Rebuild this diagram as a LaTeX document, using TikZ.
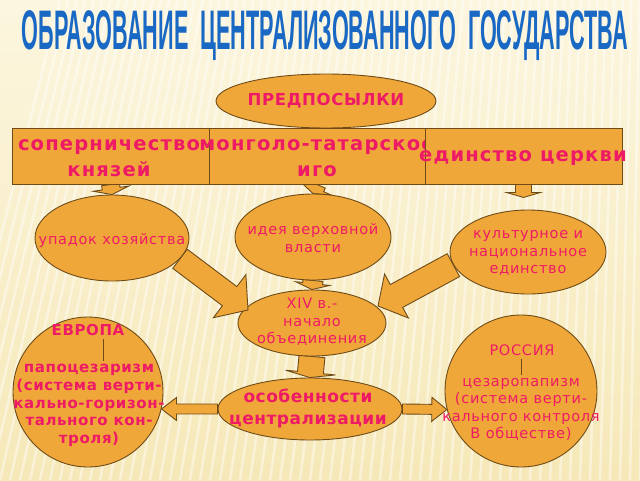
\documentclass[tikz,border=0pt]{standalone}
\usepackage{fontspec}
\usepackage{graphicx}
\setmainfont{DejaVu Sans}
\newfontfamily\titlefont{Liberation Sans}
\usetikzlibrary{shapes.geometric,calc,backgrounds}

\definecolor{bgtop}{HTML}{FCF6DF}
\definecolor{bgbottom}{HTML}{F6E8B8}
\definecolor{boxfill}{HTML}{F0A73A}
\definecolor{boxline}{HTML}{6E4C18}
\definecolor{pinktext}{HTML}{EE1A66}
\definecolor{titleblue}{HTML}{1868C4}

% block arrow from #1 to #2: shaft half width #3, head half width #4, head length #5
\newcommand{\fatarrow}[5]{%
  \coordinate (fa-base) at ($(#2)!#5!(#1)$);
  \draw[blockarrow]
    ($(#1)!#3!90:(#2)$) -- ($(fa-base)!#3!90:(#2)$) -- ($(fa-base)!#4!90:(#2)$)
    -- (#2)
    -- ($(fa-base)!#4!-90:(#2)$) -- ($(fa-base)!#3!-90:(#2)$) -- ($(#1)!#3!-90:(#2)$) -- cycle;
}

\tikzset{
  plate/.style={rectangle, draw=boxline, fill=boxfill, line width=0.9pt, inner sep=0pt},
  bubble/.style={ellipse, draw=boxline, fill=boxfill, line width=0.9pt, inner sep=0pt},
  disc/.style={circle, draw=boxline, fill=boxfill, line width=0.9pt, inner sep=0pt},
  blockarrow/.style={draw=boxline, fill=boxfill, line width=0.9pt, line join=miter},
  stripe/.style={white, opacity=0.45, line width=2.5pt},
  stem/.style={boxline, line width=0.7pt},
  thinlabel/.style={text=pinktext, align=center, inner sep=0pt,
    font={\fontsize{14.5}{17.5}\selectfont\addfontfeatures{LetterSpace=5}}},
  boldlabel/.style={text=pinktext, align=center, inner sep=0pt,
    font={\fontsize{15}{17.6}\selectfont\bfseries\addfontfeatures{LetterSpace=4}}},
  biglabel/.style={text=pinktext, align=center, inner sep=0pt,
    font={\fontsize{19.5}{26}\selectfont\bfseries\addfontfeatures{LetterSpace=6}}}
}

\begin{document}
\begin{tikzpicture}[x=1pt, y=-1pt]

    \useasboundingbox (0,0) rectangle (640,480);

    % background with stripes
    \begin{scope}[on background layer]
        \shade[top color=bgtop, bottom color=bgbottom] (0,0) rectangle (640,480);
        \foreach \i in {0,...,72} {
            \draw[stripe] ({\i*10-60},480) -- ({\i*10+60-\i*1.6},0);
        }
    \end{scope}

    % title
    \node[text=titleblue, inner sep=0pt] (title) at (325,36)
        {\resizebox*{606pt}{50pt}{\titlefont\bfseries ОБРАЗОВАНИЕ\ \ ЦЕНТРАЛИЗОВАННОГО\ \ ГОСУДАРСТВА}};

    % preconditions
    \node[bubble, minimum width=220pt, minimum height=54pt] (predpos) at (326,101) {};
    \node[boldlabel, font={\fontsize{16.5}{20}\selectfont\bfseries\addfontfeatures{LetterSpace=4}}]
        (predposT) at (predpos) {ПРЕДПОСЫЛКИ};

    % three causes in a row
    \node[plate, minimum width=197pt, minimum height=56pt] (box1) at (110.5,156) {};
    \node[biglabel] (box1T) at (109,158) {соперничество\\князей};
    \node[plate, minimum width=216pt, minimum height=56pt] (box2) at (317,156) {};
    \node[biglabel] (box2T) at (317,158) {монголо-татарское\\иго};
    \node[plate, minimum width=197pt, minimum height=56pt] (box3) at (523.5,156) {};
    \node[biglabel] (box3T) at (523,158) {единство церкви};

    % consequences
    \node[bubble, minimum width=154pt, minimum height=86pt] (upadok) at (112,238) {};
    \node[thinlabel] (upadokT) at (112,240) {упадок хозяйства};
    \node[bubble, minimum width=156pt, minimum height=86pt] (ideya) at (313,237) {};
    \node[thinlabel] (ideyaT) at (313,238) {идея верховной\\власти};
    \node[bubble, minimum width=156pt, minimum height=84pt] (kultura) at (528,252) {};
    \node[thinlabel] (kulturaT) at (528,253) {культурное и\\национальное\\единство};

    % start of unification
    \node[bubble, minimum width=148pt, minimum height=66pt] (nachalo) at (312,323) {};
    \node[thinlabel] (nachaloT) at (312,322) {XIV в.-\\начало\\объединения};

    % features
    \node[bubble, minimum width=184pt, minimum height=62pt] (osob) at (310,409) {};
    \node[boldlabel, font={\fontsize{17}{22}\selectfont\bfseries\addfontfeatures{LetterSpace=3}}]
        (osobT) at (308,409) {особенности\\централизации};

    % Europe
    \node[disc, minimum size=150pt] (evropa) at (88,392) {};
    \node[boldlabel] (evropaName) at (88,330) {ЕВРОПА};
    \node[boldlabel] (evropaDoc) at (89,405.5)
        {папоцезаризм\\(система верти-\\кально-горизон-\\тального кон-\\троля)};
    \draw[stem] ($(evropaName.south)+(15,3)$) -- ($(evropaDoc.north)+(14,-3)$);

    % Russia
    \node[disc, minimum size=152pt] (rossiya) at (521,391) {};
    \node[thinlabel] (rossiyaName) at (522,350) {РОССИЯ};
    \node[thinlabel] (rossiyaDoc) at (521,409.5)
        {цезаропапизм\\(система верти-\\кального контроля\\В обществе)};
    \draw[stem] ($(rossiyaName.south)+(-1,3)$) -- ($(rossiyaDoc.north)+(0,-3)$);

    % short arrows behind the bubbles
    \coordinate (kulturaIn) at ($(box3.south)+(0,13)$);
    \begin{scope}[on background layer]
        \fatarrow{box1.south}{upadok.north}{9pt}{18pt}{6pt}
        \fatarrow{box2.south}{ideya.north}{9pt}{17pt}{6pt}
        \fatarrow{box3.south}{kulturaIn}{8pt}{17pt}{5pt}
        \fatarrow{ideya.south}{nachalo.north}{10pt}{17pt}{6pt}
        \fatarrow{nachalo.south}{osob.north}{13pt}{25pt}{5pt}
    \end{scope}

    % slanted arrows into the start of unification
    \coordinate (tipL) at ($(nachalo.center)+(-64,-13)$);
    \coordinate (tipR) at ($(nachalo.center)+(66,-17)$);
    \fatarrow{upadok.-17}{tipL}{12pt}{27pt}{23pt}
    \fatarrow{kultura.190}{tipR}{13pt}{25pt}{21pt}

    % arrows to both ways
    \fatarrow{osob.west}{evropa.-13}{5pt}{11.5pt}{15pt}
    \fatarrow{osob.east}{rossiya.194}{5pt}{12pt}{15pt}

\end{tikzpicture}
\end{document}
